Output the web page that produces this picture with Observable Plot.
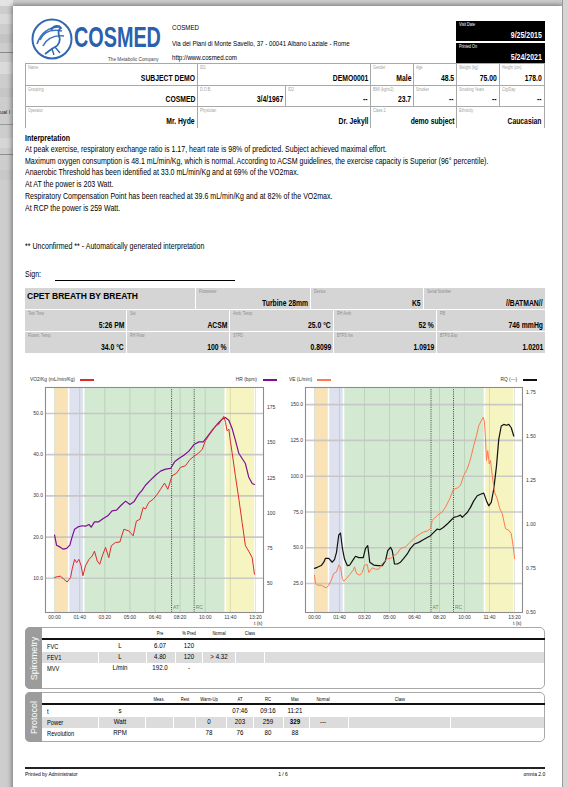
<!DOCTYPE html>
<html><head><meta charset="utf-8">
<script src="https://cdn.jsdelivr.net/npm/d3@7"></script>
<script src="https://cdn.jsdelivr.net/npm/@observablehq/plot@0.6"></script>
<style>
html,body{margin:0;padding:0}
body{width:568px;height:787px;overflow:hidden;position:relative;background:#cdcdcd;font-family:'Liberation Sans',Arial,sans-serif}
.a{position:absolute;box-sizing:border-box}
.t{position:absolute;white-space:nowrap;line-height:1}
</style></head><body>
<script>
// ---------------- DATA ----------------
const companyLines = ["COSMED", "Via dei Piani di Monte Savello, 37 - 00041 Albano Laziale - Rome", "http://www.cosmed.com"];
const visitInfo = [["Visit Date", "9/25/2015"], ["Printed On", "5/24/2021"]];
const patientRow1 = [["Name","SUBJECT DEMO"],["ID1","DEMO0001"],["Gender","Male"],["Age","48.5"],["Weight (kg)","75.00"],["Height (cm)","178.0"]];
const patientRow2 = [["Grouping","COSMED"],["D.O.B.","3/4/1967"],["ID2","--"],["BMI (kg/m2)","23.7"],["Smoker","--"],["Smoking Years","--"],["Cig/Day","--"]];
const patientRow3 = [["Operator","Mr. Hyde"],["Physician","Dr. Jekyll"],["Class 2","demo subject"],["Ethnicity","Caucasian"]];
const interpretationTitle = "Interpretation";
const interpretationLines = [
  "At peak exercise, respiratory exchange ratio is 1.17, heart rate is 98% of predicted. Subject achieved maximal effort.",
  "Maximum oxygen consumption is 48.1 mL/min/Kg, which is normal. According to ACSM guidelines, the exercise capacity is Superior (96° percentile).",
  "Anaerobic Threshold has been identified at 33.0 mL/min/Kg and at 69% of the VO2max.",
  "At AT the power is 203 Watt.",
  "Respiratory Compensation Point has been reached at 39.6 mL/min/Kg and at 82% of the VO2max.",
  "At RCP the power is 259 Watt."
];
const interpretationNote = "** Unconfirmed ** - Automatically generated interpretation";
const cpetTitle = "CPET BREATH BY BREATH";
const cpetRow1 = [["Flowmeter","Turbine 28mm"],["Device","K5"],["Serial Number","//BATMAN//"]];
const cpetRow2 = [["Test Time","5:26 PM"],["Set","ACSM"],["Amb. Temp.","25.0 °C"],["RH Amb","52 %"],["PB","746 mmHg"]];
const cpetRow3 = [["Flowm. Temp.","34.0 °C"],["RH Flow","100 %"],["STPD","0.8099"],["BTPS Ins","1.0919"],["BTPS Exp","1.0201"]];

// time in seconds
const timeTicks = [0,100,200,300,400,500,600,700,800];
const phases = [{name:"Rest",start:0,end:58},{name:"Warm-Up",start:58,end:118},{name:"Exercise",start:118,end:682},{name:"Recovery",start:682,end:800}];
const thresholds = [{name:"AT", t:466},{name:"RC", t:556}];

const vo2Ticks = [10,20,30,40,50];
const hrTicks = [50,75,100,125,150,175];
const veTicks = [25,50,75,100,125,150];
const rqTicks = [0.50,0.75,1.00,1.25,1.50,1.75];

// VO2/Kg (mL/min/Kg) [t, value]
const vo2Kg = [[0,10.2],[11,10.4],[24,10.5],[37,9.8],[50,9.1],[64,10.2],[70,12.2],[80,14.6],[88,13.8],[97,14.6],[106,13.0],[113,10.6],[123,13.0],[137,14.6],[150,15.4],[159,16.6],[170,14.2],[180,13.4],[190,15.4],[203,17.5],[216,15.0],[226,17.9],[243,18.7],[260,18.8],[276,21.9],[296,21.5],[313,20.3],[326,23.9],[340,24.3],[353,27.2],[362,26.8],[375,28.4],[393,29.2],[409,30.4],[422,31.6],[438,33.1],[451,31.6],[468,34.9],[486,35.5],[501,36.9],[521,37.3],[539,38.8],[555,39.6],[574,40.4],[588,41.3],[601,43.4],[614,44.6],[628,45.8],[641,47.0],[654,47.4],[667,48.6],[674,49.3],[681,47.8],[687,45.8],[694,46.2],[698,44.2],[707,40.5],[720,34.9],[734,29.2],[747,23.5],[760,17.9],[773,16.6],[787,15.0],[796,11.0]];
// HR (bpm)
const hr = [[0,84.3],[8,77.2],[21,76.0],[35,74.4],[48,74.9],[61,77.2],[70,83.1],[80,88.6],[93,90.2],[110,91.0],[123,90.7],[137,91.9],[146,90.0],[159,93.8],[176,93.8],[194,96.2],[212,98.1],[229,101.6],[247,102.1],[263,105.2],[283,108.5],[300,106.1],[316,108.0],[332,112.7],[349,116.3],[362,119.8],[382,123.4],[402,126.9],[422,129.8],[442,131.2],[462,131.7],[478,136.4],[495,138.8],[515,141.1],[535,144.0],[555,148.7],[575,150.6],[592,150.6],[608,154.1],[628,158.9],[647,162.9],[667,166.7],[680,167.9],[694,166.0],[707,160.1],[720,151.8],[734,142.3],[747,138.8],[760,135.2],[773,125.7],[787,121.0],[796,120.3]];
// VE (L/min)
const ve = [[0,30.8],[4,25.0],[13,23.8],[27,23.8],[37,22.7],[48,22.0],[57,23.8],[67,27.3],[77,32.0],[88,33.1],[97,37.8],[104,36.6],[111,28.5],[117,26.6],[128,28.5],[141,31.3],[155,34.3],[160,36.6],[168,32.0],[181,30.8],[191,32.7],[200,37.8],[211,38.2],[217,32.7],[231,35.9],[244,35.0],[257,35.0],[271,38.9],[284,41.3],[293,42.4],[304,42.4],[317,44.3],[331,45.9],[344,49.4],[364,50.6],[384,54.0],[404,57.5],[424,59.8],[437,61.0],[451,61.7],[464,63.3],[471,69.1],[491,72.6],[511,75.0],[524,78.4],[541,84.2],[555,90.7],[571,91.7],[584,93.5],[597,100.5],[611,105.1],[624,112.1],[637,121.4],[648,128.4],[657,135.3],[667,138.8],[675,141.2],[680,137.7],[684,126.0],[688,111.0],[693,117.9],[699,108.6],[704,111.0],[711,100.5],[720,88.9],[731,84.2],[741,77.3],[751,73.8],[764,63.3],[777,62.2],[787,59.8],[795,50.6],[800,42.4]];
// RQ
const rq = [[0,0.751],[11,0.757],[27,0.767],[37,0.786],[44,0.808],[57,0.808],[71,0.786],[80,0.801],[88,0.842],[97,0.941],[104,0.952],[111,0.871],[120,0.804],[131,0.767],[141,0.770],[155,0.801],[164,0.820],[177,0.812],[195,0.812],[204,0.865],[213,0.880],[221,0.786],[237,0.770],[253,0.767],[271,0.767],[284,0.795],[293,0.852],[304,0.871],[311,0.852],[320,0.776],[331,0.776],[344,0.786],[357,0.808],[371,0.833],[384,0.865],[400,0.890],[417,0.899],[435,0.914],[451,0.927],[464,0.937],[477,0.956],[491,0.975],[501,0.971],[515,0.984],[531,1.003],[544,1.022],[557,1.041],[571,1.046],[584,1.054],[591,1.041],[600,1.054],[611,1.069],[624,1.098],[637,1.135],[651,1.164],[664,1.173],[677,1.179],[688,1.135],[697,1.107],[707,1.126],[717,1.202],[728,1.334],[737,1.485],[747,1.561],[757,1.570],[768,1.565],[777,1.570],[787,1.551],[797,1.504]];

const spiroHeaders = ["Pre","% Pred","Normal","Class"];
const spiroRows = [["FVC","L","6.07","120","",""],["FEV1","L","4.80","120","> 4.32",""],["MVV","L/min","192.0","-","",""]];
const protoHeaders = ["Meas.","Rest","Warm-Up","AT","RC","Max","Normal","Class"];
const protoRows = [["t","s","","","","07:46","09:16","11:21","",""],["Power","Watt","","","0","203","259","329","---",""],["Revolution","RPM","","","78","76","80","88","",""]];
const footer = ["Printed by Administrator", "1 / 6", "omnia 2.0"];

// ---------------- STYLE / LAYOUT ----------------
const W = 568;
const phaseColors = ["#f8e2b6","#dde2ee","#d3e9d2","#f6f5c1"];
const body = document.body;
function box(x, y, w, h, css) { const d = document.createElement("div"); d.className = "a"; d.style.cssText = `left:${x}px;top:${y}px;width:${w}px;height:${h}px;` + (css || ""); body.appendChild(d); return d; }
function txt(x, y, s, o = {}) {
  const size = o.size ?? 8, sx = o.sx ?? 0.82, anchor = o.anchor ?? "start";
  const d = document.createElement("div"); d.className = "t"; d.textContent = s;
  d.style.fontSize = size + "px"; d.style.fontWeight = o.weight ?? 400; d.style.color = o.color ?? "#000";
  if (o.family) d.style.fontFamily = o.family;
  if (o.lh) d.style.lineHeight = o.lh;
  d.style.top = (y - size * 0.49) + "px";
  if (anchor === "start") { d.style.left = x + "px"; d.style.transformOrigin = "0 50%"; d.style.transform = `scaleX(${sx})`; }
  else if (anchor === "end") { d.style.right = (W - x) + "px"; d.style.transformOrigin = "100% 50%"; d.style.transform = `scaleX(${sx})`; }
  else { d.style.left = x + "px"; d.style.transformOrigin = "0 50%"; d.style.transform = `scaleX(${sx}) translateX(-50%)`; }
  body.appendChild(d); return d;
}

// background window strip on the left
[[0,0,13,6,"#e4e4e4"],[0,14,13,10,"#d9d9d9"],[0,34,13,9,"#c4c4c4"],[0,52,13,1,"#8a8a8a"],[0,62,13,12,"#dadada"],[0,88,13,9,"#c6c6c6"],[0,124,13,1,"#9a9a9a"],[0,138,13,10,"#d6d6d6"],[0,154,13,1,"#8f8f8f"],[0,170,13,10,"#c8c8c8"]].forEach(r => box(r[0], r[1], r[2], r[3], `background:${r[4]}`));
txt(0, 112, "ual I", {size: 6, sx: 0.9, color: "#222"});
// page
box(13, 6, 549, 800, "background:#fff;box-shadow:0 0 5px 1px rgba(0,0,0,0.45)");
box(562, 0, 6, 787, "background:#d6d6d6;border-left:1px solid #9a9a9a");

// logo
const logo = document.createElementNS("http://www.w3.org/2000/svg", "svg");
logo.setAttribute("width", 46); logo.setAttribute("height", 46); logo.setAttribute("viewBox", "0 0 46 46");
logo.style.cssText = "position:absolute;left:29px;top:16px";
logo.innerHTML = `<circle cx="23" cy="23" r="19.5" fill="none" stroke="#2f67b3" stroke-width="2"/>
<path d="M8 28 C12 16 20 11 31 11 M11 24 C15 15 23 13 33 15 M14 30 C18 22 25 19 35 20" fill="none" stroke="#3d74bd" stroke-width="1.6"/>
<path d="M22 14 C25 9 30 9 32 12 C30 13 29 16 30 20 C32 24 30 29 26 31 C22 33 19 36 16 38" fill="none" stroke="#2f67b3" stroke-width="1.8"/>
<path d="M26 31 L31 37 M23 33 L25 39" stroke="#2f67b3" stroke-width="1.4"/>`;
body.appendChild(logo);
txt(74, 41, "COSMED", {size: 30, weight: 700, sx: 0.66, color: "#2b60ad", lh: 0.75});
txt(159, 60, "The Metabolic Company", {size: 5.5, sx: 0.85, color: "#444", anchor: "end"});

// company info
companyLines.forEach((s, i) => txt(172, [28, 44, 58][i], s, {size: 7.5}));

// visit boxes
visitInfo.forEach(([lab, val], i) => {
  const y0 = [21, 43][i];
  box(456, y0, 89, 20, "background:#000");
  txt(459, y0 + 4, lab, {size: 4.6, color: "#fff"});
  txt(542, y0 + 14, val, {size: 8.5, weight: 700, color: "#fff", anchor: "end"});
});

// patient table
function patientRow(cells, edges, y0, y1) {
  cells.forEach(([lab, val], i) => {
    const x1 = edges[i], x2 = edges[i + 1];
    box(x1, y0, x2 - x1 + 1, y1 - y0, "border-top:1px solid #a8a8a8;border-left:1px solid #a8a8a8;border-right:1px solid #a8a8a8");
    txt(x1 + 3, y0 + 5, lab, {size: 4.6, color: "#a0a0a0"});
    txt(x2 - 2, y1 - 6.5, val, {size: 8.3, weight: 700, anchor: "end"});
  });
}
patientRow(patientRow1, [25,197,370,413,456,499,544], 63, 85);
patientRow(patientRow2, [25,197,285,370,413,456,499,544], 85, 106);
patientRow(patientRow3, [25,197,370,456,544], 106, 128);

// interpretation
txt(25, 138, interpretationTitle, {size: 8.5, weight: 700});
interpretationLines.forEach((s, i) => txt(25, 149 + i * 11.8, s, {size: 8.6}));
txt(25, 246, interpretationNote, {size: 8.6});
txt(25, 274, "Sign:", {size: 8.6});
box(55, 280, 180, 1, "background:#000");

// CPET table
function grayRow(cells, edges, y0, y1) {
  cells.forEach((c, i) => {
    const x1 = edges[i], x2 = edges[i + 1] - 1;
    box(x1, y0, x2 - x1, y1 - y0 - 1, "background:#d5d5d5");
    if (c === null) return;
    txt(x1 + 3, y0 + 4.5, c[0], {size: 4.6, color: "#8c8c8c"});
    txt(x2 - 2, y1 - 7, c[1], {size: 8.3, weight: 700, anchor: "end"});
  });
}
grayRow([null, ...cpetRow1], [25,196,311,424,546], 288, 310);
txt(27, 296, cpetTitle, {size: 8.5, weight: 700, sx: 1});
grayRow(cpetRow2, [25,127,230,334,437,546], 310, 332);
grayRow(cpetRow3, [25,127,230,334,437,546], 332, 354);

// ---------------- CHARTS ----------------
function mmss(t) { const m = Math.floor(t / 60), s = Math.round(t % 60); return String(m).padStart(2, "0") + ":" + String(s).padStart(2, "0"); }
const timeDomain = [-36, 832];
function makeChart(o) {
  const [a0, a1] = o.leftDomain, [b0, b1] = o.rightDomain;
  const toL = v => a0 + (v - b0) * (a1 - a0) / (b1 - b0);
  const toR = v => b0 + (v - a0) * (b1 - b0) / (a1 - a0);
  const svg = Plot.plot({
    width: 265, height: 262, marginLeft: o.ml, marginRight: o.mr, marginTop: 15, marginBottom: 22,
    x: {domain: timeDomain}, y: {domain: o.leftDomain},
    style: {fontFamily: "'Liberation Sans', Arial, sans-serif", fontSize: "5px", color: "#333", background: "transparent", overflow: "visible"},
    marks: [
      ...phases.map((p, i) => Plot.rect([p], {x1: "start", x2: "end", fill: phaseColors[i], insetLeft: 0.8, insetRight: 0.8})),
      Plot.gridX(timeTicks, {stroke: "#6f8a6f", strokeOpacity: 0.22}),
      Plot.gridY(o.leftTicks, {stroke: "#c4c4c4", strokeOpacity: 0.9, strokeWidth: 1.6}),
      Plot.ruleX(thresholds, {x: "t", stroke: "#1f3a1f", strokeDasharray: "1 1.2", strokeWidth: 0.9}),
      Plot.text(thresholds, {x: "t", text: "name", frameAnchor: "bottom", textAnchor: "start", dx: 1.5, dy: -4, fill: "#6f8f6f", fontSize: 5}),
      Plot.line(o.s2, {x: d => d[0], y: d => toL(d[1]), stroke: o.c2, strokeWidth: o.w2}),
      Plot.line(o.s1, {x: d => d[0], y: d => d[1], stroke: o.c1, strokeWidth: o.w1}),
      Plot.frame({stroke: "#8c8c8c", strokeWidth: 1.1}),
      Plot.axisY(o.leftTicks, {anchor: "left", tickSize: 0, tickPadding: 2.5, tickFormat: o.f1, label: null}),
      Plot.axisY(o.rightTicks.map(toL), {anchor: "right", tickSize: 0, tickPadding: 3.5, tickFormat: v => o.f2(toR(v)), label: null}),
      Plot.axisX(timeTicks, {tickSize: 0, tickPadding: 3, tickFormat: mmss, label: null}),
      Plot.text(["t (s)"], {frameAnchor: "bottom-right", text: d => d, textAnchor: "end", dx: -1, dy: 12, fontSize: 5})
    ]
  });
  svg.style.position = "absolute";
  svg.style.left = o.left + "px"; svg.style.top = "372px";
  body.appendChild(svg);
}
makeChart({left: 20, ml: 25, mr: 22, leftDomain: [1.7, 56.3], rightDomain: [29.4, 189.2], leftTicks: vo2Ticks, rightTicks: hrTicks,
  s1: vo2Kg, s2: hr, c1: "#e02a2a", c2: "#7e1090", w1: 1, w2: 1.2, f1: d => d.toFixed(1), f2: d => String(Math.round(d))});
makeChart({left: 285, ml: 20, mr: 28, leftDomain: [4.7, 162], rightDomain: [0.5, 1.78], leftTicks: veTicks, rightTicks: rqTicks,
  s1: ve, s2: rq, c1: "#ff7a4c", c2: "#111", w1: 1, w2: 1.2, f1: d => d.toFixed(1), f2: d => d.toFixed(2)});

// legends
function legend(x, y, label, color, anchorEnd) {
  if (anchorEnd) { txt(x, y, label, {size: 5.3, sx: 0.92, color: "#333", anchor: "end"}); box(x + 6, y - 0.6, 14, 1.4, `background:${color}`); }
  else { const t = txt(x, y, label, {size: 5.3, sx: 0.92, color: "#333"}); box(x + t.offsetWidth * 0.92 + 5, y - 0.6, 14, 1.4, `background:${color}`); }
}
legend(30, 380, "VO2/Kg (mL/min/Kg)", "#e02a2a", false);
legend(257, 380, "HR (bpm)", "#7e1090", true);
legend(289, 380, "VE (L/min)", "#ff7a4c", false);
legend(517, 380, "RQ (---)", "#111", true);

// ---------------- TABLES ----------------
function section(y0, y1, title) {
  box(25, y0, 520, y1 - y0, "border:1px solid #a8a8a8;border-radius:5px");
  box(25, y0, 17, y1 - y0, "background:#9c9c9c;border-radius:5px 0 0 5px");
  const d = txt(33.5, (y0 + y1) / 2, title, {size: 9, sx: 1, color: "#fff", anchor: "middle"});
  d.style.transform = "translateX(-50%) rotate(-90deg)"; d.style.transformOrigin = "50% 50%";
  d.style.left = "33.5px"; d.style.top = ((y0 + y1) / 2 - 4.5) + "px";
}
// spirometry
section(627, 689, "Spirometry");
const spiroCenters = [null, 120, 160, 189, 219, 250];
spiroHeaders.forEach((h, i) => txt(spiroCenters[i + 2], 633, h, {size: 5, anchor: "middle"}));
box(42, 638, 503, 1.5, "background:#111");
const spiroBand = [42, 99, 147, 176, 203, 236, 265, 545];
spiroRows.forEach((r, j) => {
  const y = 646 + j * 11;
  if (j === 1) for (let k = 0; k < spiroBand.length - 1; k++) box(spiroBand[k], y - 5.5, spiroBand[k + 1] - spiroBand[k] - 1, 11, "background:#dcdcdc");
  txt(47, y, r[0], {size: 7});
  r.slice(1).forEach((v, k) => { if (v) txt(spiroCenters[k + 1], y, v, {size: 7.5, anchor: "middle"}); });
});
// protocol
section(692, 742, "Protocol");
const protoCenters = [null, 120, 159, 185, 209, 240, 268, 295, 323, 400];
protoHeaders.forEach((h, i) => txt(protoCenters[i + 2], 699, h, {size: 5, anchor: "middle"}));
box(42, 703, 503, 1.5, "background:#111");
const protoBand = [42, 99, 146, 174, 196, 227, 254, 284, 310, 349, 451, 545];
protoRows.forEach((r, j) => {
  const y = 711 + j * 11;
  if (j === 1) for (let k = 0; k < protoBand.length - 1; k++) box(protoBand[k], y - 5.5, protoBand[k + 1] - protoBand[k] - 1, 11, "background:#dcdcdc");
  txt(47, y, r[0], {size: 7});
  r.slice(1).forEach((v, k) => { if (v) txt(protoCenters[k + 1], y, v, {size: 7.5, anchor: "middle", weight: (j === 1 && k === 6) ? 700 : 400}); });
});

// footer
box(25, 767, 520, 1.5, "background:#222");
txt(25, 775, footer[0], {size: 5.5, sx: 0.9});
txt(283, 775, footer[1], {size: 5.5, sx: 0.9, anchor: "middle"});
txt(545, 775, footer[2], {size: 5.5, sx: 0.9, anchor: "end"});
</script>
</body></html>
